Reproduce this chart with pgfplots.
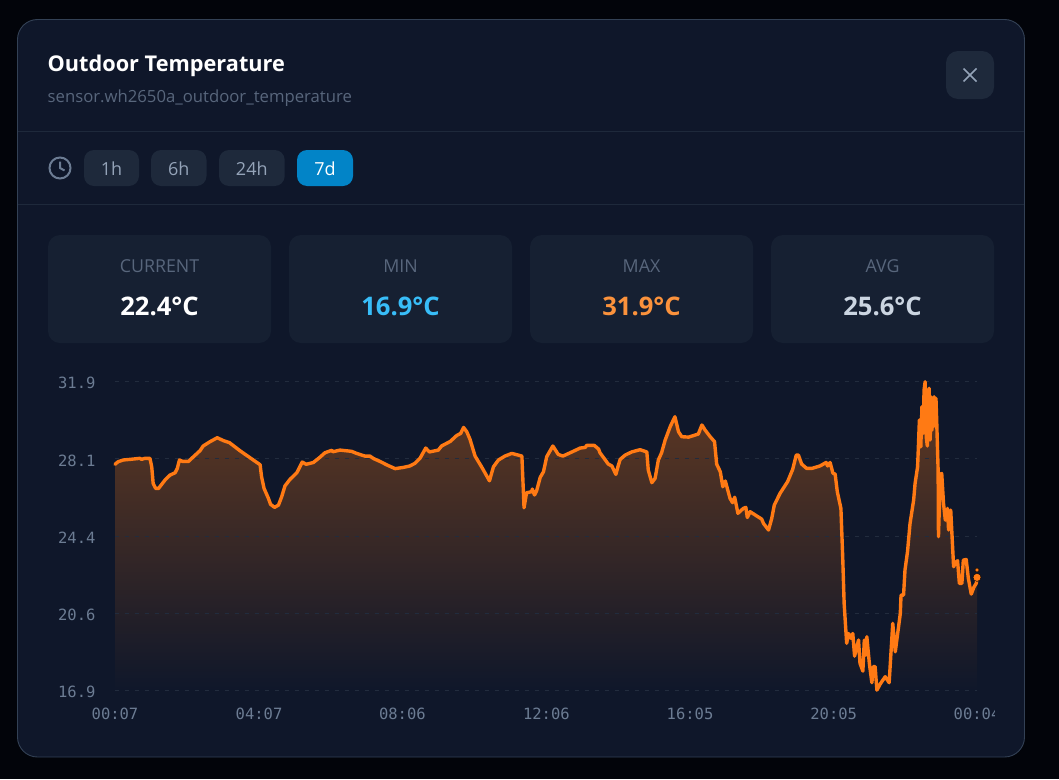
\documentclass[border=0pt]{standalone}
\usepackage{pgfplots}
\usepackage{pgfplotstable}
\usepackage{fontspec}
\pgfplotsset{compat=1.18}
\setmainfont{Open Sans}
\newfontfamily\monof{DejaVu Sans Mono}
\definecolor{pagebg}{RGB}{2,4,10}
\definecolor{modal}{RGB}{15,23,42}
\definecolor{edge}{RGB}{51,65,85}
\definecolor{divider}{RGB}{30,41,59}
\definecolor{card}{RGB}{22,32,50}
\definecolor{btn}{RGB}{30,41,59}
\definecolor{active}{RGB}{2,132,199}
\definecolor{muted}{RGB}{108,124,147}
\definecolor{dim}{RGB}{88,102,124}
\definecolor{soft}{RGB}{148,163,184}
\definecolor{sky}{RGB}{56,189,248}
\definecolor{amber}{RGB}{251,146,60}
\definecolor{pale}{RGB}{203,213,225}
\definecolor{lineor}{RGB}{255,122,20}
\definecolor{areatop}{RGB}{99,58,34}
\definecolor{gridc}{RGB}{34,44,62}
\pgfplotstableread{
h t
0.00 27.89
0.09 28.02
0.23 28.10
0.42 28.13
0.69 28.18
0.74 28.13
0.83 28.18
0.97 28.18
1.02 27.77
1.06 26.96
1.13 26.72
1.21 26.72
1.39 27.13
1.53 27.37
1.67 27.48
1.73 27.69
1.79 28.10
1.88 28.03
2.04 28.03
2.18 28.26
2.36 28.55
2.45 28.78
2.64 28.99
2.84 29.18
3.01 29.04
3.18 28.94
3.47 28.55
3.75 28.21
4.03 27.87
4.07 27.29
4.14 26.72
4.26 26.24
4.32 25.95
4.43 25.80
4.54 25.91
4.63 26.32
4.72 26.84
4.86 27.16
5.05 27.48
5.20 28.00
5.31 27.89
5.51 27.98
5.69 28.23
5.83 28.45
6.02 28.57
6.05 28.50
6.25 28.58
6.57 28.52
6.71 28.42
6.94 28.29
7.08 28.29
7.18 28.17
7.36 28.03
7.55 27.86
7.78 27.68
8.01 27.74
8.19 27.81
8.33 27.94
8.47 28.18
8.63 28.68
8.73 28.49
8.98 28.58
9.07 28.78
9.31 29.00
9.49 29.29
9.60 29.39
9.68 29.68
9.77 29.47
9.86 29.10
10.00 28.29
10.18 27.77
10.40 27.09
10.51 27.77
10.65 28.10
10.83 28.29
11.02 28.42
11.30 28.29
11.34 26.64
11.36 25.78
11.43 26.51
11.57 26.56
11.59 26.69
11.65 26.40
11.71 26.61
11.81 27.26
11.90 27.53
11.99 28.26
12.16 28.78
12.31 28.37
12.44 28.29
12.64 28.45
12.92 28.68
13.06 28.71
13.10 28.81
13.31 28.81
13.43 28.63
13.47 28.45
13.70 27.90
13.80 27.81
13.91 27.40
13.98 27.85
14.03 28.13
14.17 28.34
14.35 28.49
14.58 28.60
14.77 28.49
14.81 27.61
14.91 27.00
15.00 27.21
15.09 28.10
15.18 28.45
15.28 29.07
15.42 29.72
15.55 30.20
15.65 29.47
15.74 29.23
15.93 29.21
16.20 29.36
16.30 29.80
16.39 29.55
16.53 29.23
16.65 28.99
16.71 27.90
16.81 27.53
16.88 26.80
16.95 27.08
17.08 26.24
17.15 26.03
17.21 26.29
17.30 25.51
17.38 25.64
17.45 25.75
17.52 25.80
17.56 25.31
17.64 25.59
17.78 25.43
17.96 25.23
18.01 25.02
18.15 24.70
18.24 25.27
18.31 25.91
18.47 26.48
18.68 27.05
18.82 27.64
18.92 28.34
18.98 28.34
19.07 27.90
19.21 27.69
19.35 27.69
19.58 27.81
19.75 27.98
19.79 27.81
19.86 27.98
19.94 27.45
20.00 27.42
20.06 26.56
20.16 25.75
20.21 23.40
20.25 21.14
20.32 19.20
20.37 19.68
20.44 19.44
20.49 19.68
20.54 18.58
20.65 19.36
20.69 18.23
20.77 17.85
20.81 19.36
20.85 18.63
20.88 19.52
20.95 18.23
21.02 17.29
21.06 18.07
21.11 18.07
21.16 16.93
21.25 17.22
21.39 17.58
21.50 17.29
21.60 20.17
21.67 18.79
21.81 20.65
21.83 21.54
21.90 21.54
21.94 22.76
22.01 23.65
22.08 25.02
22.18 26.15
22.22 26.96
22.29 27.77
22.31 28.66
22.34 30.04
22.38 28.74
22.41 30.69
22.44 29.39
22.47 31.50
22.50 31.90
22.53 29.23
22.56 28.78
22.58 31.33
22.61 31.58
22.64 29.07
22.66 31.17
22.69 29.55
22.70 31.09
22.73 29.72
22.75 31.17
22.78 29.80
22.80 31.09
22.82 30.04
22.86 27.61
22.87 24.38
22.92 27.37
22.96 27.45
23.01 25.99
23.06 25.18
23.12 25.75
23.15 24.70
23.21 25.67
23.29 22.92
23.36 23.16
23.40 23.21
23.45 22.11
23.52 22.11
23.56 23.24
23.64 23.27
23.70 22.35
23.78 21.59
23.86 21.95
23.92 22.11
23.94 22.40
}\temps
\pgfplotsset{chartbase/.style={
  at={(115pt,-690.7pt)},anchor=south west,
  scale only axis,width=862pt,height=309pt,
  xmin=0,xmax=23.94,ymin=16.9,ymax=31.9,
  clip=false,
  axis line style={draw=none},
  tick style={draw=none},
}}
\begin{document}
\begin{tikzpicture}
\begin{scope}[x=1pt,y=-1pt]
\fill[pagebg] (0,0) rectangle (1059,779);
% modal
\draw[fill=modal,draw=edge,line width=0.9pt,rounded corners=20pt] (17.5,19.5) rectangle (1024.5,757);
\draw[divider,line width=1pt] (18,131.5) -- (1024,131.5);
\draw[divider,line width=1pt] (18,204.5) -- (1024,204.5);
% header
\node[anchor=base west,inner sep=0pt,text=white,font=\fontsize{21.7}{24}\selectfont\bfseries] at (47.5,71.5) {Outdoor Temperature};
\node[anchor=base west,inner sep=0pt,text=dim,font=\fontsize{16.7}{18}\selectfont] at (47.5,102) {sensor.wh2650a\_outdoor\_temperature};
\fill[btn,rounded corners=12pt] (946,51) rectangle (994,99);
\draw[soft,line width=1.6pt] (963.5,68.5) -- (976.5,81.5) (976.5,68.5) -- (963.5,81.5);
% range buttons
\draw[muted,line width=2pt] (60,168) circle (10.5pt);
\draw[muted,line width=2pt] (60,161.5) -- (60,168) -- (64.5,170.5);
\fill[btn,rounded corners=10pt] (84,150) rectangle (139,186);
\fill[btn,rounded corners=10pt] (151,150) rectangle (206.5,186);
\fill[btn,rounded corners=10pt] (219,150) rectangle (284.7,186);
\fill[active,rounded corners=10pt] (297,150) rectangle (353,186);
\foreach \cx/\lab/\c in {111.5/1h/soft,178.8/6h/soft,251.8/24h/soft,325/7d/white}
  \node[anchor=base,inner sep=0pt,text=\c,font=\fontsize{18}{20}\selectfont] at (\cx,175) {\lab};
% stat cards
\foreach \xa/\xb in {48/271,289/512,530/753,771/994}
  \fill[card,rounded corners=12pt] (\xa,235) rectangle (\xb,343);
\foreach \cx/\lab/\val/\c in {159.5/CURRENT/22.4/white,400.5/MIN/16.9/sky,641.5/MAX/31.9/amber,882.5/AVG/25.6/pale}{
  \node[anchor=base,inner sep=0pt,text=dim,font=\fontsize{17.8}{20}\selectfont] at (\cx,272) {\lab};
  \node[anchor=base,inner sep=0pt,text=\c,font=\fontsize{25.6}{28}\selectfont\bfseries] at (\cx,315.5) {\val°C};
}
\end{scope}
% chart: the area lies under the grid, the line above it
\begin{axis}[chartbase,xtick=\empty,ytick=\empty]
\addplot[draw=none,top color=areatop,bottom color=modal] table[x=h,y=t]{\temps} \closedcycle;
\end{axis}
\begin{scope}
\clip (30pt,-730pt) rectangle (994pt,-360pt);
\begin{axis}[chartbase,
  xtick={0,4,7.98,11.98,15.97,19.96,23.94},
  xticklabels={00:07,04:07,08:06,12:06,16:05,20:05,00:04},
  ytick={16.9,20.65,24.4,28.15,31.9},
  yticklabels={16.9,20.6,24.4,28.1,31.9},
  ymajorgrids,
  grid style={gridc,line width=1pt,dash pattern=on 3.5pt off 6.5pt},
  tick label style={font=\fontsize{15.5}{15}\monof,text=muted},
  yticklabel style={anchor=east,xshift=-16pt,yshift=-1.5pt},
  xticklabel style={anchor=center,yshift=-23pt},
]
\addplot[lineor,line width=3.4pt,line join=round,line cap=round] table[x=h,y=t]{\temps};
\addplot[only marks,mark=*,mark size=4pt,mark options={fill=lineor,draw=none}] coordinates {(23.94,22.4)};
\addplot[only marks,mark=*,mark size=2pt,mark options={fill=lineor,draw=none}] coordinates {(23.94,22.76)};
\end{axis}
\end{scope}
\end{tikzpicture}
\end{document}
